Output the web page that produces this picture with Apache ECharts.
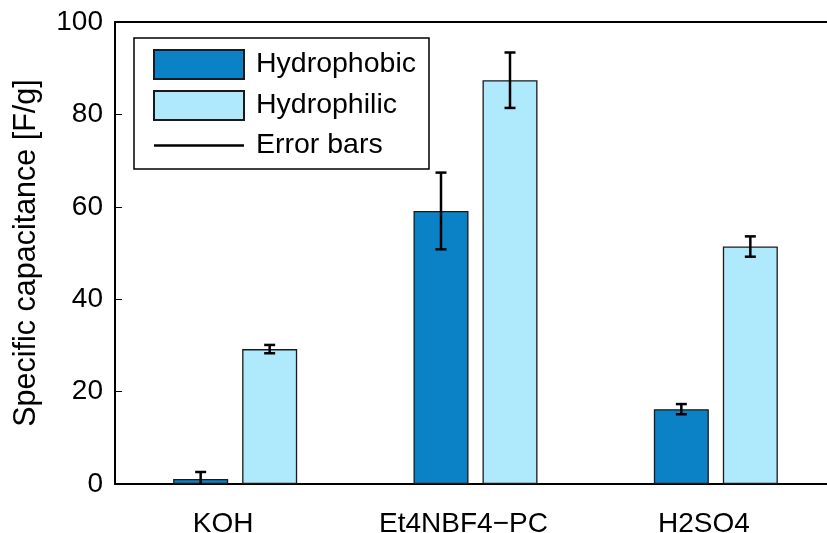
<!DOCTYPE html>
<html>
<head>
<meta charset="utf-8">
<script src="https://cdn.jsdelivr.net/npm/echarts@6/dist/echarts.min.js"></script>
<style>
	html, body { margin: 0; padding: 0; background: #fff; }
	#chart { width: 827px; height: 533px; }
</style>
</head>
<body>
<div id="chart"></div>
<script>
// data
var categories = ['KOH', 'Et4NBF4\u2212PC', 'H2SO4'];
var hydrophobic = [1.1, 59.1, 16.2];
var hydrophobicErr = [1.5, 8.3, 1.1];
var hydrophilic = [29.2, 87.4, 51.4];
var hydrophilicErr = [0.9, 6.0, 2.2];
var yTicks = [0, 20, 40, 60, 80, 100];

var FONT = '"Liberation Sans", Arial, Helvetica, sans-serif';
var BAR_W = 55, BAR_GAP = 14;
var OFFSET = (BAR_W + BAR_GAP) / 2;

// [index, low, high] for the error bars
function errData(vals, errs) {
	var out = [];
	for (var i = 0; i < vals.length; i++) {
		out.push([i, vals[i] - errs[i], vals[i] + errs[i]]);
	}
	return out;
}

function errRender(offset) {
	return function (params, api) {
		var x = api.coord([api.value(0), 0])[0] + offset;
		var lo = api.coord([api.value(0), api.value(1)])[1];
		var hi = api.coord([api.value(0), api.value(2)])[1];
		var cap = 5.5;
		var style = { stroke: '#000', lineWidth: 2.5 };
		return {
			type: 'group',
			children: [
				{ type: 'line', shape: { x1: x, y1: hi, x2: x, y2: lo }, style: style },
				{ type: 'line', shape: { x1: x - cap, y1: hi, x2: x + cap, y2: hi }, style: style },
				{ type: 'line', shape: { x1: x - cap, y1: lo, x2: x + cap, y2: lo }, style: style }
			]
		};
	};
}

var myChart = echarts.init(document.getElementById('chart'));
var options = {
	animation: false,
	textStyle: { fontFamily: FONT },
	grid: {
		left: 115, right: -9, top: 22, bottom: 49,
		containLabel: false,
		outerBoundsMode: 'none'
	},
	legend: {
		orient: 'vertical',
		left: 134, top: 38,
		padding: [11, 13, 9, 19],
		itemGap: 10,
		itemWidth: 90,
		itemHeight: 29,
		symbolKeepAspect: false,
		backgroundColor: '#fff',
		borderColor: '#000',
		borderWidth: 1.5,
		borderRadius: 0,
		textStyle: { fontSize: 28.5, color: '#000', fontFamily: FONT, padding: [0, 0, 0, 7] },
		data: [
			{ name: 'Hydrophobic', icon: 'rect' },
			{ name: 'Hydrophilic', icon: 'rect' },
			{ name: 'Error bars', icon: 'path://M0,0 M90,29 M0,13.25 L90,13.25 L90,15.75 L0,15.75 Z',
				itemStyle: { color: '#000', borderWidth: 0 } }
		]
	},
	xAxis: [
		{
			type: 'category',
			data: categories,
			position: 'bottom',
			axisLine: { lineStyle: { color: '#000', width: 2 } },
			axisTick: { inside: true, alignWithLabel: true, length: 6, lineStyle: { color: '#000', width: 1 } },
			axisLabel: { color: '#000', fontSize: 28, fontFamily: FONT, margin: 26, padding: [0, 24, 0, 0] },
			splitLine: { show: false }
		},
		{
			type: 'category',
			data: categories,
			position: 'top',
			axisLine: { lineStyle: { color: '#000', width: 2 } },
			axisTick: { inside: true, alignWithLabel: true, length: 6, lineStyle: { color: '#000', width: 1 } },
			axisLabel: { show: false },
			splitLine: { show: false }
		}
	],
	yAxis: {
		type: 'value',
		min: yTicks[0],
		max: yTicks[yTicks.length - 1],
		interval: yTicks[1] - yTicks[0],
		name: 'Specific capacitance [F/g]',
		nameLocation: 'middle',
		nameGap: 73,
		nameTextStyle: { color: '#000', fontSize: 30.5, fontFamily: FONT },
		axisLine: { show: true, lineStyle: { color: '#000', width: 2 } },
		axisTick: { show: true, inside: true, length: 7, lineStyle: { color: '#000', width: 1 } },
		axisLabel: { color: '#000', fontSize: 28, fontFamily: FONT, margin: 12 },
		splitLine: { show: false }
	},
	series: [
		{
			name: 'Hydrophobic',
			type: 'bar',
			data: hydrophobic,
			barWidth: BAR_W,
			barGap: (BAR_GAP / BAR_W * 100) + '%',
			itemStyle: { color: '#0b82c6', borderColor: '#1a1a1a', borderWidth: 1.3 }
		},
		{
			name: 'Hydrophilic',
			type: 'bar',
			data: hydrophilic,
			barWidth: BAR_W,
			barGap: (BAR_GAP / BAR_W * 100) + '%',
			itemStyle: { color: '#aeeafc', borderColor: '#1a1a1a', borderWidth: 1.3 }
		},
		{
			name: 'Error bars',
			type: 'custom',
			clip: true,
			itemStyle: { color: '#000' },
			renderItem: errRender(-OFFSET),
			data: errData(hydrophobic, hydrophobicErr),
			z: 5
		},
		{
			name: 'Error bars',
			type: 'custom',
			clip: true,
			itemStyle: { color: '#000' },
			renderItem: errRender(OFFSET),
			data: errData(hydrophilic, hydrophilicErr),
			z: 5
		}
	]
};
myChart.setOption(options);
</script>
</body>
</html>
